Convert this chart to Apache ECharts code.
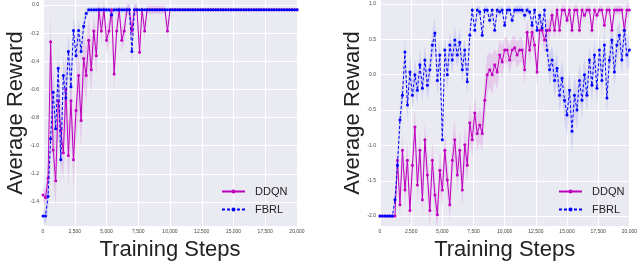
<!DOCTYPE html>
<html><head><meta charset="utf-8">
<script src="https://cdn.jsdelivr.net/npm/echarts@6/dist/echarts.min.js"></script>
<style>html,body{margin:0;padding:0;background:#fff}#c{width:640px;height:280px}</style>
</head><body><div id="c"></div>
<script>
const STEPS = [0,200,400,600,800,1000,1200,1400,1600,1800,2000,2200,2400,2600,2800,3000,3200,3400,3600,3800,
4000,4200,4400,4600,4800,5000,5200,5400,5600,5800,6000,6200,6400,6600,6800,7000,7200,7400,7600,7800,
8000,8200,8400,8600,8800,9000,9200,9400,9600,9800,10000,10200,10400,10600,10800,11000,11200,11400,11600,11800,
12000,12200,12400,12600,12800,13000,13200,13400,13600,13800,14000,14200,14400,14600,14800,15000,15200,15400,15600,15800,
16000,16200,16400,16600,16800,17000,17200,17400,17600,17800,18000,18200,18400,18600,18800,19000,19200,19400,19600,19800,20000];

const X_TICK_STEP = 2500;
const L_YTICKS = [0.0,-0.2,-0.4,-0.6,-0.8,-1.0,-1.2,-1.4];
const R_YTICKS = [1.0,0.5,0.0,-0.5,-1.0,-1.5,-2.0];

// Left chart
const L_DDQN = [-1.35,-1.37,-1.23,-0.26,-1.03,-1.25,-0.68,-0.89,-1.05,-0.60,
-1.07,-0.68,-1.10,-0.75,-0.50,-0.82,-0.38,-0.50,-0.25,-0.46,
-0.185,-0.36,-0.033,-0.185,-0.033,-0.25,-0.185,-0.033,-0.49,-0.185,
-0.033,-0.25,-0.185,-0.033,-0.033,-0.185,-0.033,-0.033,-0.335,-0.033,
-0.185,-0.033,-0.033,-0.033,-0.033,-0.033,-0.033,-0.033,-0.033,-0.185,
-0.033,-0.033,-0.033,-0.033,-0.033,-0.033,-0.033,-0.033,-0.033,-0.033,
-0.033,-0.033,-0.033,-0.033,-0.033,-0.033,-0.033,-0.033,-0.033,-0.033,
-0.033,-0.033,-0.033,-0.033,-0.033,-0.033,-0.033,-0.033,-0.033,-0.033,
-0.033,-0.033,-0.033,-0.033,-0.033,-0.033,-0.033,-0.033,-0.033,-0.033,
-0.033,-0.033,-0.033,-0.033,-0.033,-0.033,-0.033,-0.033,-0.033,-0.033,-0.033];
const L_DDQN_SD = [0.05,0.06,0.10,0.20,0.22,0.18,0.25,0.22,0.20,0.24,
0.22,0.25,0.20,0.22,0.24,0.20,0.18,0.20,0.16,0.18,
0.12,0.14,0.06,0.10,0.06,0.10,0.08,0.05,0.14,0.08,
0.05,0.08,0.08,0.04,0.04,0.08,0.04,0.04,0.10,0.04,
0.06,0.03,0.03,0.03,0.03,0.03,0.03,0.03,0.03,0.06,
0,0,0,0,0,0,0,0,0,0,0,0,0,0,0,0,0,0,0,0,
0,0,0,0,0,0,0,0,0,0,0,0,0,0,0,0,0,0,0,0,
0,0,0,0,0,0,0,0,0,0,0];
const L_FBRL = [-1.50,-1.50,-1.36,-0.95,-0.62,-0.88,-0.45,-1.10,-0.50,-0.66,
-0.33,-0.58,-0.18,-0.36,-0.18,-0.33,-0.15,-0.06,-0.033,-0.033,
-0.033,-0.033,-0.033,-0.033,-0.033,-0.033,-0.033,-0.07,-0.033,-0.033,
-0.033,-0.033,-0.033,-0.033,-0.033,-0.33,-0.033,-0.033,-0.033,-0.033,
-0.033,-0.033,-0.033,-0.033,-0.033,-0.033,-0.033,-0.033,-0.033,-0.033,
-0.033,-0.033,-0.033,-0.033,-0.033,-0.033,-0.033,-0.033,-0.033,-0.033,
-0.033,-0.033,-0.033,-0.033,-0.033,-0.033,-0.033,-0.033,-0.033,-0.033,
-0.033,-0.033,-0.033,-0.033,-0.033,-0.033,-0.033,-0.033,-0.033,-0.033,
-0.033,-0.033,-0.033,-0.033,-0.033,-0.033,-0.033,-0.033,-0.033,-0.033,
-0.033,-0.033,-0.033,-0.033,-0.033,-0.033,-0.033,-0.033,-0.033,-0.033,-0.033];
const L_FBRL_SD = [0.04,0.06,0.12,0.18,0.16,0.18,0.15,0.18,0.14,0.15,
0.12,0.14,0.10,0.12,0.08,0.10,0.06,0.04,0.02,0.02,
0.02,0.02,0.02,0.02,0.02,0.02,0.02,0.04,0.02,0.02,
0.02,0.02,0.02,0.02,0.04,0.10,0.04,0.02,0,0,
0,0,0,0,0,0,0,0,0,0,0,0,0,0,0,0,0,0,0,0,
0,0,0,0,0,0,0,0,0,0,0,0,0,0,0,0,0,0,0,0,
0,0,0,0,0,0,0,0,0,0,0,0,0,0,0,0,0,0,0,0,0];

// Right chart
const R_DDQN = [-2.0,-2.0,-2.0,-2.0,-2.0,-2.0,-2.0,-1.21,-1.84,-1.07,
-1.63,-1.21,-1.92,-1.28,-0.74,-1.56,-1.07,-1.77,-0.92,-1.42,
-1.92,-1.21,-1.70,-1.98,-1.35,-1.63,-1.07,-1.49,-1.84,-1.21,
-0.92,-1.42,-1.07,-1.63,-0.99,-1.28,-0.68,-0.92,-0.54,-0.83,
-0.71,-0.83,-0.36,0.0,0.07,0.0,0.14,0.04,0.28,0.18,
0.35,0.35,0.21,0.35,0.38,0.28,0.35,0.35,0.07,0.60,
0.35,0.60,0.42,0.04,0.63,0.63,0.49,0.63,0.63,0.84,
0.63,0.915,0.63,0.915,0.915,0.77,0.915,0.63,0.915,0.915,
0.63,0.915,0.84,0.915,0.915,0.63,0.915,0.84,0.915,0.915,
0.70,0.915,0.915,0.63,0.915,0.915,0.915,0.915,0.63,0.915,0.915];
const R_DDQN_SD = [0,0,0,0,0,0,0,0.15,0.20,0.22,
0.25,0.25,0.22,0.28,0.25,0.25,0.28,0.25,0.25,0.28,
0.25,0.28,0.25,0.22,0.28,0.25,0.28,0.25,0.22,0.28,
0.28,0.25,0.28,0.25,0.28,0.25,0.28,0.25,0.25,0.25,
0.25,0.25,0.30,0.28,0.25,0.28,0.22,0.25,0.22,0.22,
0.18,0.18,0.20,0.18,0.18,0.18,0.18,0.18,0.22,0.18,
0.18,0.18,0.18,0.22,0.15,0.15,0.18,0.15,0.15,0.12,
0.12,0.10,0.12,0.08,0.08,0.10,0.08,0.10,0.08,0.08,
0.10,0.08,0.08,0.06,0.06,0.10,0.06,0.08,0.06,0.06,
0.08,0.06,0.06,0.10,0.06,0.06,0.06,0.06,0.12,0.10,0.10];
const R_FBRL = [-2.0,-2.0,-2.0,-2.0,-2.0,-2.0,-1.77,-1.28,-0.64,-0.29,
0.32,-0.43,0.04,-0.29,0.0,-0.22,0.14,-0.19,0.21,-0.15,
0.07,0.42,0.59,-0.08,0.28,-0.92,0.35,0.0,0.42,0.21,
0.49,0.28,0.46,0.07,0.35,-0.10,0.56,0.915,0.63,0.915,
0.89,0.56,0.915,0.915,0.77,0.915,0.63,0.915,0.89,0.915,
0.70,0.915,0.915,0.77,0.915,0.915,0.915,0.915,0.84,0.915,
0.89,0.70,0.915,0.63,0.84,0.66,0.915,0.35,0.07,0.21,
-0.08,0.09,-0.29,-0.05,-0.36,-0.57,-0.22,-0.80,-0.29,-0.50,
-0.08,-0.36,0.0,-0.29,0.21,-0.15,0.28,-0.19,0.35,-0.08,
0.42,-0.33,0.21,0.49,0.04,0.42,0.56,0.21,0.63,0.28,0.35];
const R_FBRL_SD = [0,0,0,0,0,0,0.10,0.20,0.22,0.22,
0.25,0.22,0.22,0.20,0.22,0.20,0.22,0.20,0.22,0.20,
0.22,0.20,0.22,0.22,0.20,0.25,0.20,0.22,0.20,0.20,
0.20,0.18,0.20,0.20,0.18,0.20,0.15,0.08,0.10,0.06,
0.08,0.10,0.06,0.06,0.08,0.06,0.08,0.06,0.06,0.06,
0.08,0.06,0.06,0.08,0.06,0.06,0.06,0.06,0.08,0.06,
0.06,0.08,0.06,0.10,0.08,0.10,0.08,0.18,0.22,0.22,
0.25,0.22,0.25,0.25,0.30,0.30,0.28,0.35,0.28,0.30,
0.25,0.28,0.25,0.25,0.22,0.25,0.22,0.25,0.22,0.25,
0.22,0.25,0.22,0.22,0.22,0.22,0.20,0.22,0.20,0.22,0.22];

const MAGENTA = '#BF00BF';
const BLUE = '#0000FF';
const FONT = 'Liberation Sans, Arial, sans-serif';

function pairs(vals){ return STEPS.map((s,i)=>[s, vals[i]]); }
function bandSeries(g, vals, sd, fill){
  const data = STEPS.map((s,i)=>[s, vals[i]-sd[i], vals[i]+sd[i]]);
  return {type:'custom', xAxisIndex:g, yAxisIndex:g, silent:true, z:1,
    encode:{x:0, y:[1,2]}, data:data, clip:true,
    renderItem:function(params, api){
      const i = params.dataIndex;
      if (i >= data.length-1) return null;
      const a = data[i], b = data[i+1];
      const pts = [api.coord([a[0],a[1]]), api.coord([b[0],b[1]]), api.coord([b[0],b[2]]), api.coord([a[0],a[2]])];
      return {type:'polygon', shape:{points:pts}, style:{fill:fill, stroke:null}};
    }};
}
function lineSeries(g, name, vals, color, dashed, z){
  return {type:'line', name:name, xAxisIndex:g, yAxisIndex:g, data:pairs(vals),
    symbol:'circle', symbolSize:3, showAllSymbol:true, z:z,
    itemStyle:{color:color}, lineStyle:{color:color, width:1, type: dashed ? [3,2] : 'solid'},
    emphasis:{disabled:true}};
}

const series = [
  bandSeries(0,L_DDQN,L_DDQN_SD,'rgba(191,0,191,0.13)'),
  bandSeries(0,L_FBRL,L_FBRL_SD,'rgba(0,0,255,0.10)'),
  bandSeries(1,R_DDQN,R_DDQN_SD,'rgba(191,0,191,0.13)'),
  bandSeries(1,R_FBRL,R_FBRL_SD,'rgba(0,0,255,0.10)'),
  lineSeries(0,'DDQN',L_DDQN,MAGENTA,false,2),
  lineSeries(0,'FBRL',L_FBRL,BLUE,true,3),
  lineSeries(1,'DDQN',R_DDQN,MAGENTA,false,2),
  lineSeries(1,'FBRL',R_FBRL,BLUE,true,3)
];

function xAxis(g){
  return {type:'value', gridIndex:g, min:0, max:20000, interval:X_TICK_STEP,
    axisLine:{show:false}, axisTick:{show:false},
    axisLabel:{fontSize:5, color:'#444', margin:3, fontFamily:FONT},
    splitLine:{show:true, lineStyle:{color:'#fff', width:1}},
    name:'Training Steps', nameLocation:'middle', nameGap:1,
    nameTextStyle:{fontSize:22, color:'#222', fontFamily:FONT, verticalAlign:'top'}};
}
function yAxis(g, mn, mx, ticks, gap){
  return {type:'value', gridIndex:g, min:mn, max:mx,
    axisLine:{show:false},
    axisTick:{show:false, customValues:ticks},
    axisLabel:{fontSize:5, color:'#444', margin:4, fontFamily:FONT, customValues:ticks,
      formatter:v=>Number(v).toFixed(1)},
    splitLine:{show:true, lineStyle:{color:'#fff', width:1}},
    name:'Average Reward', nameLocation:'middle', nameGap:gap,
    nameTextStyle:{fontSize:22, color:'#222', fontFamily:FONT}};
}
function legend(left){
  return {orient:'vertical', left:left, top:186, padding:0, itemWidth:23, itemHeight:5, itemGap:7,
    data:['DDQN','FBRL'], selectedMode:false,
    textStyle:{fontSize:11, color:'#222', fontFamily:FONT, padding:[0,0,0,5]}};
}

const chart = echarts.init(document.getElementById('c'), null, {renderer:'canvas'});
chart.setOption({
  animation:false,
  backgroundColor:'#fff',
  grid:[
    {left:43, top:0, width:254, height:226, show:true, backgroundColor:'#EAEAF2', borderWidth:0},
    {left:380, top:0, width:254, height:226, show:true, backgroundColor:'#EAEAF2', borderWidth:0}
  ],
  xAxis:[xAxis(0), xAxis(1)],
  yAxis:[yAxis(0,-1.571,0.036,L_YTICKS,15), yAxis(1,-2.14,1.057,R_YTICKS,14)],
  legend:[legend(221), legend(558)],
  series:series
});
</script></body></html>
